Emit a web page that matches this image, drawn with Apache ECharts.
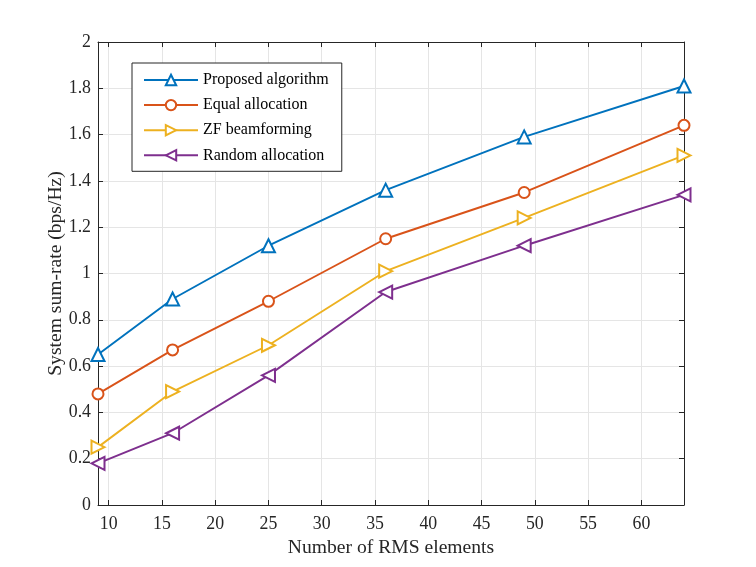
<!DOCTYPE html>
<html>
<head>
<meta charset="utf-8">
<script src="https://cdn.jsdelivr.net/npm/echarts@6/dist/echarts.min.js"></script>
<style>
html,body{margin:0;padding:0;background:#fff;}
#chart{width:756px;height:567px;}
</style>
</head>
<body>
<div id="chart"></div>
<script>
const xValues = [9, 16, 25, 36, 49, 64];
const xTicks = [10, 15, 20, 25, 30, 35, 40, 45, 50, 55, 60];
const proposed = [0.65, 0.89, 1.12, 1.36, 1.59, 1.81];
const equalAlloc = [0.48, 0.67, 0.88, 1.15, 1.35, 1.64];
const zfBeam = [0.25, 0.49, 0.69, 1.01, 1.24, 1.51];
const randomAlloc = [0.18, 0.31, 0.56, 0.92, 1.12, 1.34];
const seriesNames = ['Proposed algorithm', 'Equal allocation', 'ZF beamforming', 'Random allocation'];

const font = 'Liberation Serif';
const ink = '#262626';
const colors = ['#0072BD', '#D95319', '#EDB120', '#7E2F8E'];
const symbols = ['emptyTriangle', 'emptyCircle', 'emptyTriangle', 'emptyTriangle'];
const rotates = [0, 0, -90, 90];
const sizes = [13, 11, 13, 13];
const datasets = [proposed, equalAlloc, zfBeam, randomAlloc];

const chart = echarts.init(document.getElementById('chart'));

const series = datasets.map((d, i) => ({
  name: seriesNames[i],
  type: 'line',
  data: xValues.map((x, j) => [x, d[j]]),
  symbol: symbols[i],
  symbolSize: sizes[i],
  symbolRotate: rotates[i],
  lineStyle: { color: colors[i], width: 1.9 },
  itemStyle: { color: colors[i], borderColor: colors[i], borderWidth: 1.8 },
  emphasis: { disabled: true },
  animation: false,
  z: 3
}));

const xCommon = {
  type: 'value', min: 9, max: 64,
  axisLine: { show: true, onZero: false, lineStyle: { color: ink, width: 1 } },
  axisTick: { show: true, inside: true, length: 5, customValues: xTicks, lineStyle: { color: ink } },
};

chart.setOption({
  animation: false,
  backgroundColor: '#fff',
  color: colors,
  grid: { left: 98, right: 72, top: 42, bottom: 62, show: true, backgroundColor: '#fff', borderWidth: 0 },
  legend: {
    orient: 'vertical',
    left: 132, top: 63,
    data: seriesNames,
    backgroundColor: '#fff',
    borderColor: ink,
    borderWidth: 1,
    borderRadius: 0,
    padding: [9, 13, 8, 11],
    itemWidth: 54,
    itemHeight: 13,
    itemGap: 9.1,
    textStyle: { fontFamily: font, fontSize: 16, color: '#000' },
    selectedMode: false
  },
  xAxis: [
    Object.assign({}, xCommon, {
      position: 'bottom',
      name: 'Number of RMS elements',
      nameLocation: 'middle',
      nameGap: 28,
      nameTextStyle: { fontFamily: font, fontSize: 19.6, color: ink },
      axisLabel: { customValues: xTicks, fontFamily: font, fontSize: 17.8, color: ink, margin: 10 },
      splitLine: { show: true, lineStyle: { color: '#e5e5e5', width: 1 } }
    }),
    Object.assign({}, xCommon, {
      position: 'top',
      axisLabel: { show: false },
      splitLine: { show: false }
    })
  ],
  yAxis: [
    {
      type: 'value', min: 0, max: 2, interval: 0.2, position: 'left',
      name: 'System sum-rate (bps/Hz)',
      nameLocation: 'middle',
      nameGap: 32,
      nameMoveOverlap: false,
      nameTextStyle: { fontFamily: font, fontSize: 19.6, color: ink },
      axisLine: { show: true, onZero: false, lineStyle: { color: ink, width: 1 } },
      axisTick: { show: true, inside: true, length: 5, lineStyle: { color: ink } },
      axisLabel: { fontFamily: font, fontSize: 17.8, color: ink, margin: 7,
        formatter: v => String(Math.round(v * 10) / 10) },
      splitLine: { show: true, lineStyle: { color: '#e5e5e5', width: 1 } }
    },
    {
      type: 'value', min: 0, max: 2, interval: 0.2, position: 'right',
      axisLine: { show: true, onZero: false, lineStyle: { color: ink, width: 1 } },
      axisTick: { show: true, inside: true, length: 5, lineStyle: { color: ink } },
      axisLabel: { show: false },
      splitLine: { show: false }
    }
  ],
  series: series
});
</script>
</body>
</html>
